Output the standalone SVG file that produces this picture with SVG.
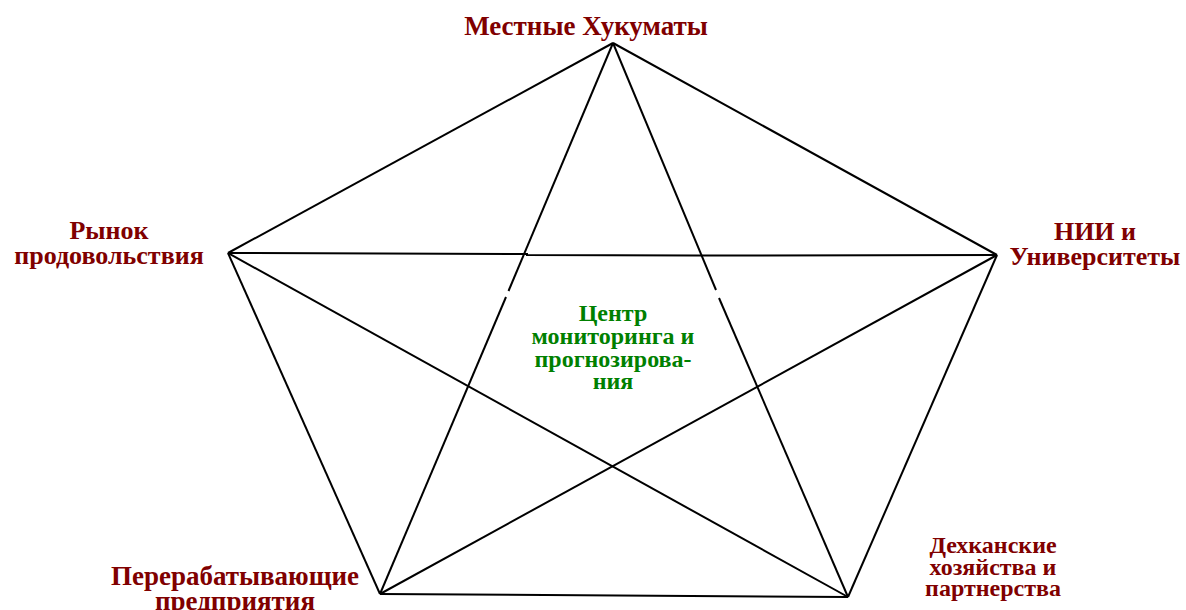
<svg xmlns="http://www.w3.org/2000/svg" width="1186" height="610" viewBox="0 0 1186 610">
<style>
.l{stroke:#000;stroke-width:2;fill:none;stroke-linecap:butt}
.t{font-family:"Liberation Serif","Times New Roman",serif;font-weight:bold;fill:#800000;text-anchor:middle}
.c{font-family:"Liberation Serif","Times New Roman",serif;font-weight:bold;fill:#008000;text-anchor:middle;font-size:24px}
</style>
<rect width="1186" height="610" fill="#fff"/>
<g id="connectors">
<line class="l" x1="613" y1="43" x2="228" y2="253"/>
<line class="l" x1="613" y1="43" x2="997" y2="255"/>
<line class="l" x1="228" y1="253" x2="380" y2="594"/>
<line class="l" x1="997" y1="255" x2="848" y2="597"/>
<line class="l" x1="380" y1="594" x2="848" y2="597"/>
<polyline class="l" points="228,253 527,254 527,255 697,255.5 997,255"/>
<line class="l" x1="228" y1="253" x2="848" y2="597"/>
<line class="l" x1="997" y1="255" x2="380" y2="594"/>
<line class="l" x1="613" y1="43" x2="508.5" y2="291"/>
<line class="l" x1="506" y1="297" x2="380" y2="594"/>
<line class="l" x1="613" y1="43" x2="716" y2="290"/>
<line class="l" x1="719" y1="298" x2="848" y2="597"/>
</g>
<g id="n-top"><text class="t" x="586" y="35" font-size="27">Местные Хукуматы</text></g>
<g id="n-left"><text class="t" x="109" y="239" font-size="26">Рынок</text><text class="t" x="109" y="264" font-size="26">продовольствия</text></g>
<g id="n-right"><text class="t" x="1095" y="240" font-size="26">НИИ и</text><text class="t" x="1095" y="265" font-size="26">Университеты</text></g>
<g id="n-bl"><text class="t" x="235" y="585" font-size="27">Перерабатывающие</text><text class="t" x="235" y="610" font-size="27">предприятия</text></g>
<g id="n-br"><text class="t" x="993" y="553" font-size="24">Дехканские</text><text class="t" x="993" y="575" font-size="24">хозяйства и</text><text class="t" x="993" y="596" font-size="24">партнерства</text></g>
<g id="n-center"><text class="c" x="613" y="321">Центр</text><text class="c" x="613" y="344">мониторинга и</text><text class="c" x="613" y="367">прогнозирова-</text><text class="c" x="613" y="389">ния</text></g>
</svg>
